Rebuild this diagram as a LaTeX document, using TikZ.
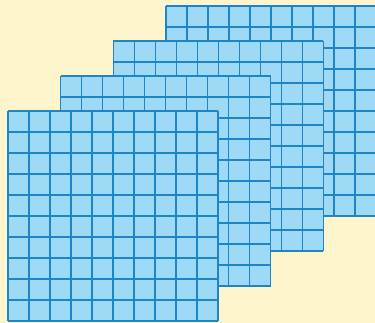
\documentclass[tikz,border=0pt]{standalone}
\usepackage{tikz}
\usetikzlibrary{positioning}
\definecolor{paper}{HTML}{FFF5CC}
\definecolor{cellfill}{HTML}{9ED9F6}
\definecolor{gridline}{HTML}{1E86C6}
\tikzset{
  sheet/.style={fill=cellfill},
  gridlines/.style={draw=gridline,line width=1.3pt}
}
\begin{document}
\begin{tikzpicture}[x=1pt,y=-1pt]
\fill[paper] (0,0) rectangle (375,323);
\useasboundingbox (0,0) rectangle (375,323);
\clip (0,0) rectangle (375,323);
% four stacked sheets, back one first
\foreach \k in {3,2,1,0} {
  \begin{scope}[shift={(8+52.7*\k,111-35*\k)}]
    \path[sheet] (0,0) rectangle (210,210);
    \foreach \i in {0,...,10} {
      \draw[gridlines] (21*\i,0) -- (21*\i,210);
      \draw[gridlines] (0,21*\i) -- (210,21*\i);
    }
  \end{scope}
}
\end{tikzpicture}
\end{document}
